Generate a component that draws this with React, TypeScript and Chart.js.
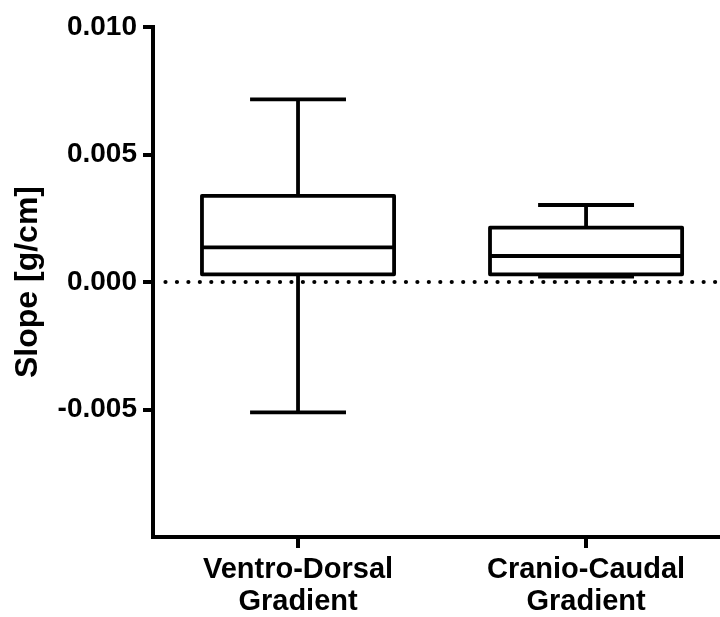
import React, { useEffect, useRef } from 'react';
import { Chart, registerables } from 'chart.js';

Chart.register(...registerables);

// ---- data ----
const categories = [
  ['Ventro-Dorsal', 'Gradient'],
  ['Cranio-Caudal', 'Gradient'],
];
const boxPositions = [1, 2];
const whiskerLow = [-0.00511, 0.00021];
const quartile1 = [0.0003, 0.0003];
const medians = [0.00136, 0.00102];
const quartile3 = [0.00338, 0.00213];
const whiskerHigh = [0.00716, 0.00302];
const yTickValues = [-0.01, -0.005, 0, 0.005, 0.01];
const yTitle = 'Slope [g/cm]';

const FONT = '"Liberation Sans", Arial, Helvetica, sans-serif';
const BOX_WIDTH = 0.667;
const CAP_WIDTH = 0.333;

const boxPlugin = {
  id: 'boxplot',
  beforeDatasetsDraw(chart: any) {
    const { ctx, chartArea, scales } = chart;
    const y = scales.y;
    const y0 = y.getPixelForValue(0);
    ctx.save();
    ctx.strokeStyle = '#000';
    ctx.lineWidth = 4.2;
    ctx.lineCap = 'round';
    ctx.setLineDash([0, 11.45]);
    ctx.beginPath();
    ctx.moveTo(chartArea.left + 12.5, y0);
    ctx.lineTo(chartArea.right, y0);
    ctx.stroke();
    ctx.restore();
  },
  afterDatasetsDraw(chart: any) {
    const { ctx, scales } = chart;
    const { x, y } = scales;
    ctx.save();
    ctx.strokeStyle = '#000';
    ctx.lineWidth = 3.8;
    ctx.lineJoin = 'round';
    ctx.lineCap = 'butt';
    boxPositions.forEach((pos, i) => {
      const cx = x.getPixelForValue(pos);
      const bl = x.getPixelForValue(pos - BOX_WIDTH / 2);
      const br = x.getPixelForValue(pos + BOX_WIDTH / 2);
      const cl = x.getPixelForValue(pos - CAP_WIDTH / 2);
      const cr = x.getPixelForValue(pos + CAP_WIDTH / 2);
      const yLo = y.getPixelForValue(whiskerLow[i]);
      const yQ1 = y.getPixelForValue(quartile1[i]);
      const yMed = y.getPixelForValue(medians[i]);
      const yQ3 = y.getPixelForValue(quartile3[i]);
      const yHi = y.getPixelForValue(whiskerHigh[i]);
      ctx.beginPath();
      ctx.moveTo(cx, yQ3);
      ctx.lineTo(cx, yHi);
      ctx.moveTo(cl, yHi);
      ctx.lineTo(cr, yHi);
      ctx.moveTo(cx, yQ1);
      ctx.lineTo(cx, yLo);
      ctx.moveTo(cl, yLo);
      ctx.lineTo(cr, yLo);
      ctx.stroke();
      ctx.beginPath();
      ctx.rect(bl, yQ3, br - bl, yQ1 - yQ3);
      ctx.stroke();
      ctx.beginPath();
      ctx.moveTo(bl, yMed);
      ctx.lineTo(br, yMed);
      ctx.stroke();
    });
    ctx.restore();
  },
};

export default function App() {
  const canvasRef = useRef<HTMLCanvasElement | null>(null);

  useEffect(() => {
    document.body.style.margin = '0';
    const canvas = canvasRef.current;
    if (!canvas) return;
    const chart = new Chart(canvas, {
      type: 'scatter',
      data: { datasets: [{ data: [], showLine: false }] },
      options: {
        animation: false,
        responsive: false,
        devicePixelRatio: 1,
        layout: { padding: { top: 27, right: 0, bottom: 0, left: 0 } },
        plugins: { legend: { display: false }, tooltip: { enabled: false } },
        scales: {
          x: {
            type: 'linear',
            min: 0.4965,
            max: 2.465,
            afterBuildTicks: (s: any) => {
              s.ticks = boxPositions.map((v) => ({ value: v }));
            },
            afterFit: (s: any) => {
              s.height = 80;
            },
            ticks: {
              autoSkip: false,
              maxRotation: 0,
              minRotation: 0,
              padding: 6,
              color: '#000',
              font: { family: FONT, size: 29, weight: 'bold', lineHeight: 1.1 },
              callback: (_v: any, i: number) => categories[i],
            },
            grid: {
              drawOnChartArea: false,
              drawTicks: true,
              tickLength: 11,
              tickWidth: 4,
              color: '#000',
              lineWidth: 4,
            },
            border: { display: true, color: '#000', width: 4 },
          },
          y: {
            type: 'linear',
            min: -0.01,
            max: 0.01,
            afterBuildTicks: (s: any) => {
              s.ticks = yTickValues.map((v) => ({ value: v }));
            },
            afterFit: (s: any) => {
              s.width = 153;
            },
            ticks: {
              padding: 6,
              color: '#000',
              font: { family: FONT, size: 28, weight: 'bold' },
              callback: (v: any) => (Number(v) < -0.0099 ? '' : Number(v).toFixed(3)),
            },
            grid: {
              drawOnChartArea: false,
              drawTicks: true,
              tickLength: 10,
              tickWidth: 4,
              lineWidth: 4,
              color: (c: any) =>
                c.tick && c.tick.value < -0.0099 ? 'rgba(0,0,0,0)' : '#000',
            },
            border: { display: true, color: '#000', width: 4 },
            title: {
              display: true,
              text: yTitle,
              color: '#000',
              padding: { top: 9, bottom: 0 },
              font: { family: FONT, size: 32, weight: 'bold', lineHeight: 1.2 },
            },
          },
        },
      },
      plugins: [boxPlugin],
    } as any);
    return () => chart.destroy();
  }, []);

  return (
    <div style={{ width: 720, height: 617, background: '#fff' }}>
      <canvas ref={canvasRef} width={720} height={617} style={{ display: 'block' }} />
    </div>
  );
}
